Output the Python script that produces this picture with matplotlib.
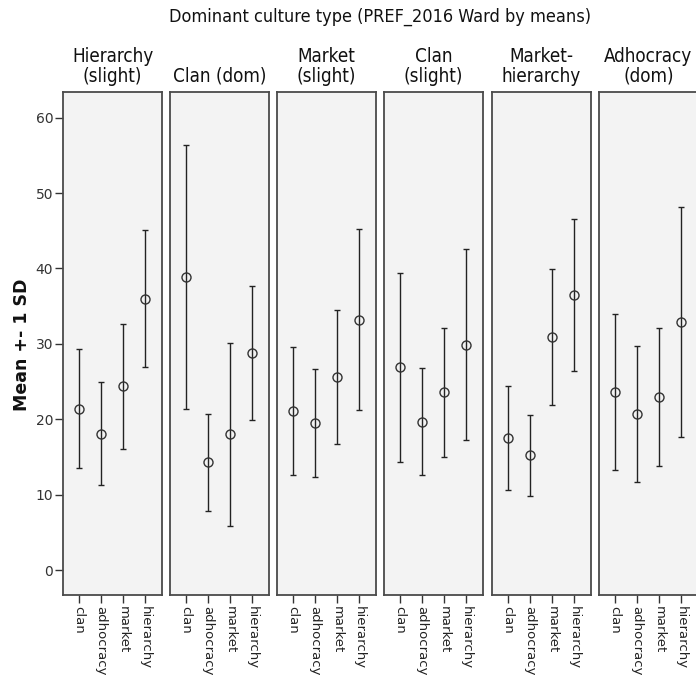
import matplotlib.pyplot as plt
import numpy as np

groups = ['Hierarchy\n(slight)', 'Clan (dom)', 'Market\n(slight)',
          'Clan\n(slight)', 'Market-\nhierarchy', 'Adhocracy\n(dom)']
types = ['clan', 'adhocracy', 'market', 'hierarchy']

# mean and SD of each culture type, one row per cluster
means = [
    [21.4, 18.1, 24.4, 36.0],
    [38.9, 14.3, 18.0, 28.8],
    [21.1, 19.5, 25.6, 33.2],
    [26.9, 19.7, 23.6, 29.9],
    [17.5, 15.2, 30.9, 36.5],
    [23.6, 20.7, 22.9, 32.9],
]
sds = [
    [7.9, 6.8, 8.3, 9.1],
    [17.5, 6.4, 12.1, 8.85],
    [8.5, 7.15, 8.85, 12.0],
    [12.55, 7.15, 8.55, 12.65],
    [6.9, 5.4, 9.05, 10.1],
    [10.35, 9.0, 9.15, 15.25],
]
yticks = [0, 10, 20, 30, 40, 50, 60]

W, H = 696, 679
fig = plt.figure(figsize=(W / 100, H / 100), dpi=100)

lefts = [63, 170, 277, 384, 492, 599]
pw, top, bot = 99, 92, 595

x = np.arange(len(types))
for i, name in enumerate(groups):
    ax = fig.add_axes([lefts[i] / W, (H - bot) / H, pw / W, (bot - top) / H])
    ax.set_facecolor('#f3f3f3')
    for s in ax.spines.values():
        s.set_color('#4a4a4a')
        s.set_linewidth(1.3)
    ax.errorbar(x, means[i], yerr=sds[i], fmt='o', mfc='none', mec='#333333',
                ms=6.5, mew=1.0, ecolor='#222222', elinewidth=1.0,
                capsize=2, capthick=1.4)
    ax.set_xlim(-0.73, 3.77)
    ax.set_ylim(-3.3, 63.4)
    ax.set_xticks(x)
    ax.set_xticklabels(types, rotation=270, fontsize=9.5, color='#222222')
    ax.tick_params(axis='x', length=6, width=1, color='#333333', pad=2)
    if i == 0:
        ax.set_yticks(yticks)
        ax.tick_params(axis='y', length=6, width=1, color='#333333',
                       labelsize=10, labelcolor='#333333', pad=1)
    else:
        ax.set_yticks([])
    ax.text(0.5, 1.012, name, transform=ax.transAxes, ha='center',
            va='bottom', fontsize=13.5, family='DejaVu Sans',
            fontstretch='condensed', linespacing=1.05, color='#111111')

fig.text(380 / W, 1 - 17 / H, 'Dominant culture type (PREF_2016 Ward by means)',
         ha='center', va='center', fontsize=13, family='DejaVu Sans',
         fontstretch='condensed', color='#111111')
fig.text(22 / W, 1 - 345 / H, 'Mean +- 1 SD', rotation=90, ha='center',
         va='center', fontsize=12.5, fontweight='bold', color='#111111')

fig.savefig('out.png', dpi=100, facecolor='white')
